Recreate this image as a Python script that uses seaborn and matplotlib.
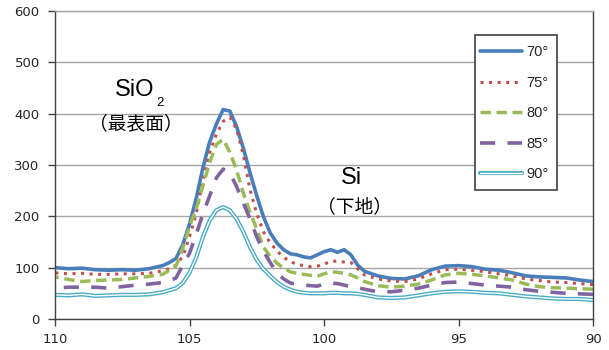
import matplotlib
matplotlib.use("Agg")
import matplotlib.pyplot as plt
import matplotlib.patheffects as pe
from matplotlib.patches import Rectangle
import seaborn as sns
import pandas as pd

# ---- data ----
binding_energy = [110, 109.5, 109, 108.5, 108, 107.5, 107, 106.5,
                  106, 105.75, 105.5, 105.25, 105, 104.75, 104.5, 104.25, 104, 103.75,
                  103.5, 103.25, 103, 102.75, 102.5, 102.25, 102, 101.75, 101.5, 101.25,
                  101, 100.75, 100.5, 100.25, 100, 99.75, 99.5, 99.25, 99, 98.75, 98.5,
                  98, 97.5, 97, 96.5, 96, 95.5, 95, 94.5, 94, 93.5, 93, 92.5, 92, 91.5,
                  91, 90.5, 90]

int_70 = [100, 98, 99, 96, 95, 96, 95, 98,
          104, 110, 118, 145, 185, 235, 295, 345, 380, 408, 405, 375, 333, 285, 240, 199,
          168, 148, 135, 127, 125, 121, 119, 125, 131, 135, 130, 135, 125, 105, 93,
          84, 79, 78, 84, 96, 103, 104, 102, 97, 95, 90, 84, 82, 81, 80, 76, 73]
int_75 = [90, 88, 89, 87, 87, 88, 88, 89,
          94, 98, 105, 122, 160, 205, 270, 325, 360, 385, 393, 370, 320, 252, 205, 170,
          148, 133, 120, 112, 106, 104, 102, 103, 107, 112, 113, 111, 110, 98, 86,
          78, 74, 73, 78, 88, 96, 97, 95, 92, 88, 84, 78, 75, 72, 71, 69, 67]
int_80 = [82, 77, 73, 75, 76, 77, 80, 83,
          87, 95, 103, 138, 180, 215, 260, 305, 340, 350, 325, 290, 245, 208, 175, 140,
          122, 109, 99, 92, 89, 87, 85, 83, 88, 92, 91, 89, 86, 80, 73,
          65, 62, 64, 68, 76, 86, 89, 87, 84, 80, 76, 68, 63, 61, 60, 59, 58]
int_85 = [60, 62, 62, 62, 60, 63, 66, 68,
          71, 74, 80, 105, 128, 165, 205, 240, 275, 292, 285, 258, 226, 195, 160, 132,
          110, 90, 78, 70, 68, 66, 65, 64, 68, 70, 69, 66, 63, 61, 58,
          53, 53, 56, 60, 66, 71, 72, 69, 66, 64, 62, 57, 54, 52, 50, 49, 48]
int_90 = [47, 46, 48, 45, 46, 47, 47, 48,
          52, 56, 60, 70, 90, 120, 160, 192, 212, 218, 212, 195, 170, 140, 115, 97,
          84, 72, 63, 57, 53, 51, 50, 50, 50, 51, 51, 50, 50, 49, 47,
          42, 41, 42, 46, 50, 53, 54, 53, 51, 50, 47, 44, 42, 40, 39, 39, 37]

series_labels = ["70°", "75°", "80°", "85°", "90°"]
x_ticks = [110, 105, 100, 95, 90]
y_ticks = [0, 100, 200, 300, 400, 500, 600]

# ---- figure ----
sns.set_theme(style="white")
plt.rcParams['font.family'] = ['DejaVu Sans']

W, H = 609, 350
fig = plt.figure(figsize=(W / 100, H / 100), dpi=100)
ax_l, ax_r, ax_t, ax_b = 55, 593, 11, 319
ax = fig.add_axes([ax_l / W, 1 - ax_b / H, (ax_r - ax_l) / W, (ax_b - ax_t) / H])

blue, red, green, purple, cyan = "#4A7EBB", "#C0504D", "#9BBB59", "#8064A2", "#4BACC6"

styles = [
    dict(color=blue, linewidth=2.6, linestyle="-"),
    dict(color=red, linewidth=2.2, linestyle=(0, (1, 1.8))),
    dict(color=green, linewidth=2.5, linestyle=(0, (3, 1.6))),
    dict(color=purple, linewidth=2.6, linestyle=(0, (4.2, 3.4))),
    dict(color="white", linewidth=1.0, linestyle="-",
         path_effects=[pe.Stroke(linewidth=3.0, foreground=cyan), pe.Normal()]),
]
series = [int_70, int_75, int_80, int_85, int_90]

for vals, lab, st in zip(series, series_labels, styles):
    df = pd.DataFrame({"x": binding_energy, "y": vals})
    sns.lineplot(data=df, x="x", y="y", ax=ax, label=lab, errorbar=None, **st)

ax.set_xlim(110, 90)
ax.set_ylim(0, 600)
ax.set_xticks(x_ticks)
ax.set_xticklabels([str(t) for t in x_ticks])
ax.set_yticks(y_ticks)
ax.set_yticklabels([str(t) for t in y_ticks])
ax.set_xlabel("")
ax.set_ylabel("")

ax.yaxis.grid(True, color="#A6A6A6", linewidth=1.0)
ax.xaxis.grid(False)
ax.set_axisbelow(True)

for side in ["left", "bottom", "right"]:
    ax.spines[side].set_visible(True)
    ax.spines[side].set_color("#404040")
    ax.spines[side].set_linewidth(1.0)
ax.spines["top"].set_visible(True)
ax.spines["top"].set_color("#A6A6A6")
ax.spines["top"].set_linewidth(1.0)

ax.tick_params(axis="both", which="both", direction="out", length=5, width=1.0,
               color="#404040", labelsize=9.5, labelcolor="#262626")
ax.tick_params(axis="y", pad=6, left=True)
ax.tick_params(axis="x", pad=5, bottom=True)

# legend: frame drawn separately to match the tall box with narrow side padding
def ax_x(px):
    return (px - ax_l) / (ax_r - ax_l)

def ax_y(py):
    return (ax_b - py) / (ax_b - ax_t)

leg = ax.legend(loc="upper left", bbox_to_anchor=(ax_x(480), ax_y(45.5)),
                frameon=False, prop={'family': 'Liberation Sans', 'size': 10.5},
                labelspacing=1.13, handlelength=2.9, handletextpad=0.3,
                borderpad=0, borderaxespad=0)
for t in leg.get_texts():
    t.set_color("#262626")
frame = Rectangle((ax_x(475), ax_y(190)), ax_x(557) - ax_x(475), ax_y(35) - ax_y(190),
                  transform=ax.transAxes, facecolor="white", edgecolor="#404040",
                  linewidth=1.2, zorder=4)
ax.add_patch(frame)
leg.set_zorder(5)

# ---- annotations ----
def fx(px):
    return px / W

def fy(py):
    return 1 - py / H

lat = ['Liberation Sans', 'DejaVu Sans']
cjk = ['Noto Sans CJK JP', 'DejaVu Sans']
fig.text(fx(135), fy(87.5), "SiO", family=lat, fontsize=17, ha="center", va="center_baseline", color="black")
fig.text(fx(160), fy(101.5), "2", family=lat, fontsize=9.5, ha="center", va="center_baseline", color="black")
fig.text(fx(136), fy(123.5), "（最表面）", family=cjk, fontsize=13.5, ha="center", va="center", color="black")
fig.text(fx(351), fy(176), "Si", family=lat, fontsize=17, ha="center", va="center_baseline", color="black")
fig.text(fx(355), fy(206.5), "（下地）", family=cjk, fontsize=13.5, ha="center", va="center", color="black")

fig.savefig("out.png", dpi=100)
